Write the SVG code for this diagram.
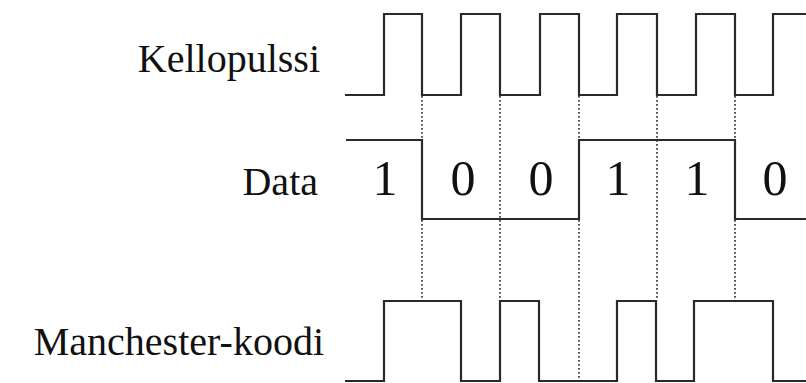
<svg xmlns="http://www.w3.org/2000/svg" width="806" height="383" viewBox="0 0 806 383">
<style>
.wave{fill:none;stroke:#2a2a2a;stroke-width:2.2;stroke-linejoin:miter}
.dot{fill:none;stroke:#444;stroke-width:1.8;stroke-dasharray:1.8 2.2}
.lbl{font-size:40px;fill:#111;text-anchor:end}
.bit{font-size:50px;fill:#111;text-anchor:middle}
</style>
<rect width="806" height="383" fill="#fff"/>
<g id="connectors">
<line class="dot" x1="422" y1="96" x2="422" y2="300"/>
<line class="dot" x1="500" y1="96" x2="500" y2="300"/>
<line class="dot" x1="579" y1="96" x2="579" y2="381"/>
<line class="dot" x1="657" y1="96" x2="657" y2="300"/>
<line class="dot" x1="735" y1="96" x2="735" y2="300"/>
</g>
<g id="clock">
<text class="lbl" font-family="'Liberation Serif', 'DejaVu Serif', serif" x="320" y="72">Kellopulssi</text>
<polyline class="wave" points="345,95 384,95 384,14 422,14 422,95 461,95 461,14 500,14 500,95 540,95 540,14 579,14 579,95 617,95 617,14 657,14 657,95 696,95 696,14 735,14 735,95 773,95 773,14 806,14"/>
</g>
<g id="data">
<text class="lbl" font-family="'Liberation Serif', 'DejaVu Serif', serif" x="318" y="195">Data</text>
<polyline class="wave" points="346,140 422,140 422,219 579,219 579,140 735,140 735,219 806,219"/>
<g font-family="'Liberation Serif', 'DejaVu Serif', serif">
<text class="bit" x="385" y="195">1</text>
<text class="bit" x="463" y="195">0</text>
<text class="bit" x="541" y="195">0</text>
<text class="bit" x="618" y="195">1</text>
<text class="bit" x="697" y="195">1</text>
<text class="bit" x="775" y="195">0</text>
</g>
</g>
<g id="manchester">
<text class="lbl" font-family="'Liberation Serif', 'DejaVu Serif', serif" x="324" y="355">Manchester-koodi</text>
<polyline class="wave" points="345,381 384,381 384,301 461,301 461,381 500,381 500,301 539,301 539,381 617,381 617,301 656,301 656,381 694,381 694,301 773,301 773,381 806,381"/>
</g>
</svg>
